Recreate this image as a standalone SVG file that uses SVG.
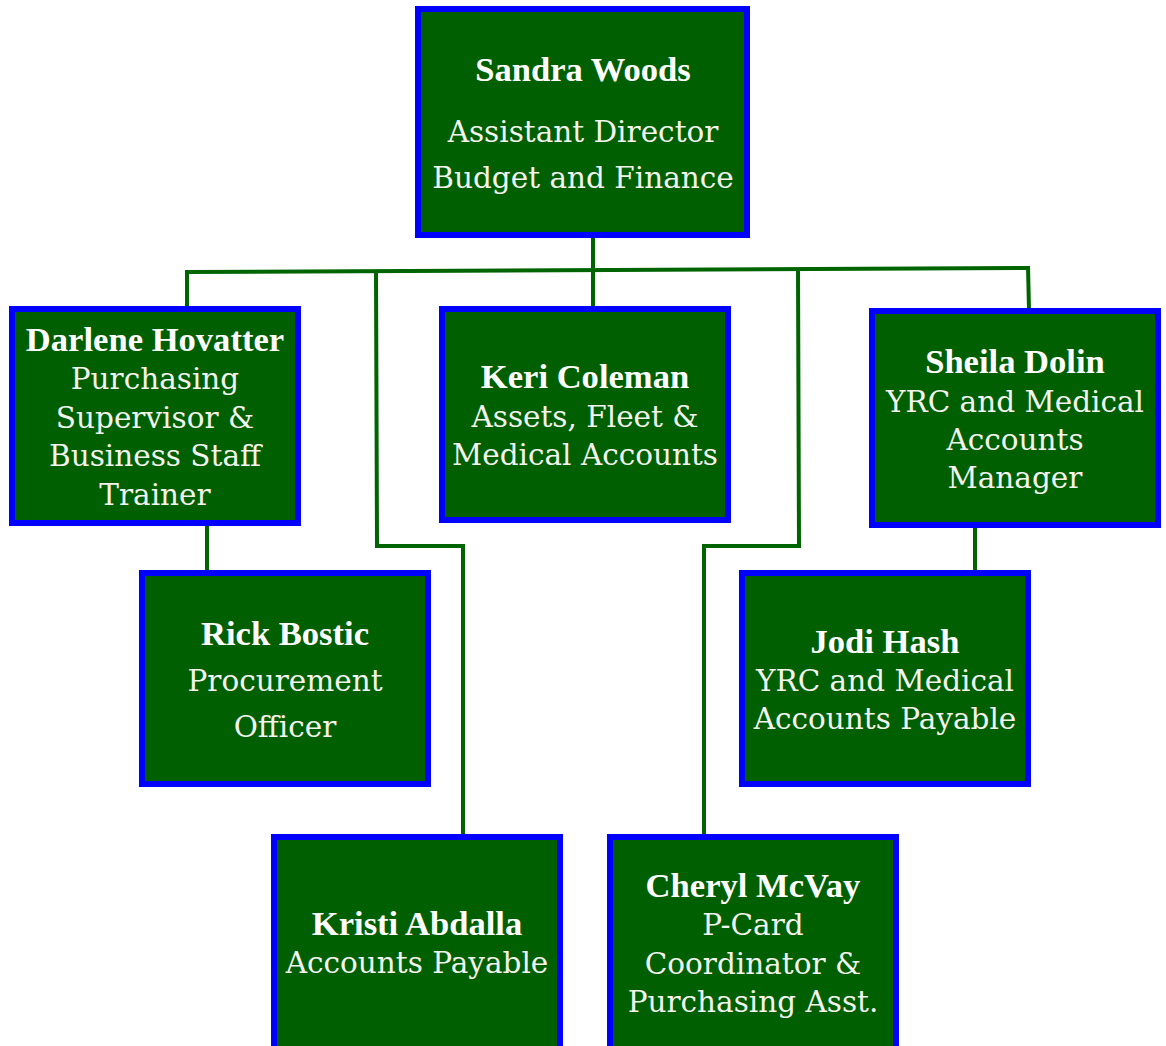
<svg xmlns="http://www.w3.org/2000/svg" width="1166" height="1046" viewBox="0 0 1166 1046">
<style>
.box{fill:#005f00;stroke:#0000ff;stroke-width:6}
.conn{fill:none;stroke:#006400;stroke-width:4;stroke-linejoin:miter}
.nm{font-family:"Liberation Serif",serif;font-weight:bold;font-size:34.6px;fill:#ffffff;text-anchor:middle}
.t{font-family:"DejaVu Serif",serif;font-size:29.5px;fill:#f4f4ee;text-anchor:middle}
</style>
<rect width="1166" height="1046" fill="#ffffff"/>
<g id="connectors">
<line class="conn" x1="187" y1="272" x2="1028" y2="268"/>
<line class="conn" x1="593" y1="236" x2="593" y2="308"/>
<line class="conn" x1="187" y1="270" x2="187" y2="308"/>
<polyline class="conn" points="376,270 377,546 463,546 463,836"/>
<line class="conn" x1="1028" y1="266" x2="1029" y2="310"/>
<polyline class="conn" points="798,268 799,546 704,546 704,836"/>
<line class="conn" x1="207" y1="524" x2="207" y2="572"/>
<line class="conn" x1="975" y1="526" x2="975" y2="572"/>
</g>
<g id="sandra">
<rect class="box" x="418" y="9" width="329" height="226"/>
<text class="nm" x="583" y="81">Sandra Woods</text>
<text class="t" x="583" y="142">Assistant Director</text>
<text class="t" x="583" y="188">Budget and Finance</text>
</g>
<g id="darlene">
<rect class="box" x="12" y="309" width="286" height="214"/>
<text class="nm" x="155" y="351">Darlene Hovatter</text>
<text class="t" x="155" y="389">Purchasing</text>
<text class="t" x="155" y="428">Supervisor &amp;</text>
<text class="t" x="155" y="466">Business Staff</text>
<text class="t" x="155" y="505">Trainer</text>
</g>
<g id="keri">
<rect class="box" x="442" y="309" width="286" height="211"/>
<text class="nm" x="585" y="388">Keri Coleman</text>
<text class="t" x="585" y="427">Assets, Fleet &amp;</text>
<text class="t" x="585" y="465">Medical Accounts</text>
</g>
<g id="sheila">
<rect class="box" x="872" y="311" width="286" height="214"/>
<text class="nm" x="1015" y="373">Sheila Dolin</text>
<text class="t" x="1015" y="412">YRC and Medical</text>
<text class="t" x="1015" y="450">Accounts</text>
<text class="t" x="1015" y="488">Manager</text>
</g>
<g id="rick">
<rect class="box" x="142" y="573" width="286" height="211"/>
<text class="nm" x="285" y="645">Rick Bostic</text>
<text class="t" x="285" y="691">Procurement</text>
<text class="t" x="285" y="737">Officer</text>
</g>
<g id="jodi">
<rect class="box" x="742" y="573" width="286" height="211"/>
<text class="nm" x="885" y="653">Jodi Hash</text>
<text class="t" x="885" y="691">YRC and Medical</text>
<text class="t" x="885" y="729">Accounts Payable</text>
</g>
<g id="kristi">
<rect class="box" x="274" y="837" width="286" height="220"/>
<text class="nm" x="417" y="935">Kristi Abdalla</text>
<text class="t" x="417" y="973">Accounts Payable</text>
</g>
<g id="cheryl">
<rect class="box" x="610" y="837" width="286" height="220"/>
<text class="nm" x="753" y="897">Cheryl McVay</text>
<text class="t" x="753" y="935">P-Card</text>
<text class="t" x="753" y="974">Coordinator &amp;</text>
<text class="t" x="753" y="1012">Purchasing Asst.</text>
</g>
</svg>
